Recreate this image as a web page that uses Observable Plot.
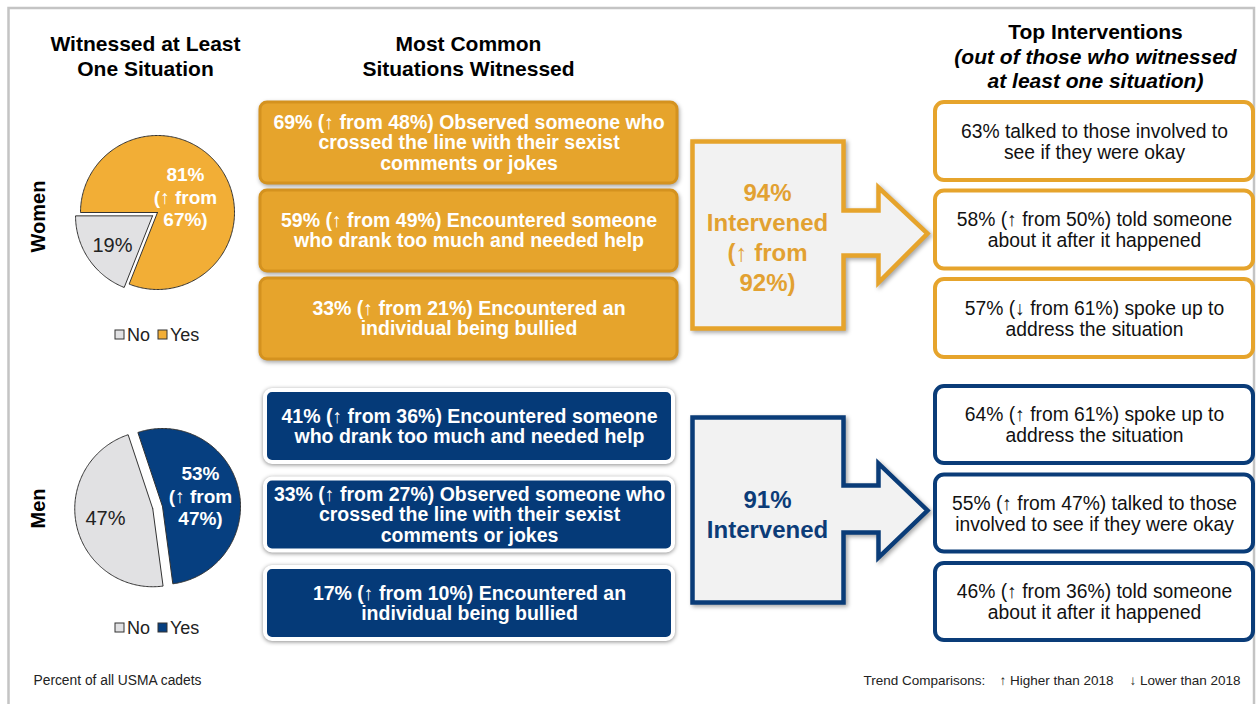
<!DOCTYPE html>
<html>
<head>
<meta charset="utf-8">
<script src="https://cdn.jsdelivr.net/npm/d3@7"></script>
<script src="https://cdn.jsdelivr.net/npm/@observablehq/plot@0.6"></script>
<style>
  html, body { margin: 0; padding: 0; background: #fff; }
  #chart svg { display: block; }
</style>
</head>
<body>
<div id="chart"></div>
<script>
// ================= DATA =================
const groups = ["Women", "Men"];
const witnessedYes = [81, 53];
const witnessedNo = [19, 47];
const witnessedYesPrior = [67, 47];
const legendLabels = ["No", "Yes"];

const columnTitles = ["Witnessed at Least\nOne Situation", "Most Common\nSituations Witnessed", "Top Interventions"];
const interventionSubtitle = "(out of those who witnessed\nat least one situation)";

const womenSituationPct = [69, 59, 33];
const womenSituationPrior = [48, 49, 21];
const womenSituationText = [
  "Observed someone who\ncrossed the line with their sexist\ncomments or jokes",
  "Encountered someone\nwho drank too much and needed help",
  "Encountered an\nindividual being bullied"
];

const menSituationPct = [41, 33, 17];
const menSituationPrior = [36, 27, 10];
const menSituationText = [
  "Encountered someone\nwho drank too much and needed help",
  "Observed someone who\ncrossed the line with their sexist\ncomments or jokes",
  "Encountered an\nindividual being bullied"
];

const intervenedPct = [94, 91];
const intervenedPrior = [92, null];

const womenInterventionPct = [63, 58, 57];
const womenInterventionPrior = [null, 50, 61];
const womenInterventionText = [
  "talked to those involved to\nsee if they were okay",
  "told someone\nabout it after it happened",
  "spoke up to\naddress the situation"
];

const menInterventionPct = [64, 55, 46];
const menInterventionPrior = [61, 47, 36];
const menInterventionText = [
  "spoke up to\naddress the situation",
  "talked to those\ninvolved to see if they were okay",
  "told someone\nabout it after it happened"
];

const footnote = "Percent of all USMA cadets";
const trendLegend = ["Trend Comparisons:", "\u2191 Higher than 2018", "\u2193 Lower than 2018"];

// ================= HELPERS =================
const arrowOf = (v, p) => (v > p ? "\u2191" : "\u2193");
const trendPart = (v, p) => (p == null ? "" : `(${arrowOf(v, p)} from ${p}%) `);
const itemLabel = (v, p, t) => `${v}% ${trendPart(v, p)}${t}`;

// ================= LAYOUT & STYLE =================
const W = 1259, H = 704;
const FONT = "'Liberation Sans', 'DejaVu Sans', Arial, sans-serif";
const theme = [
  { accent: "#e6a42c", accentDark: "#d4921f", pieYes: "#f2ae36", text: "#e2a131", box: "#e6a42c" },
  { accent: "#0a3c78", accentDark: "#0a3c78", pieYes: "#063f80", text: "#0c3c78", box: "#053a78" }
];
const pieGray = "#e1e1e3";
const layout = [
  { pie: { cx: 157, cy: 212, r: 77, start: 270, explode: 6 },
    pieLabel: { x: 185, y: 196 }, noLabel: { x: 112, y: 245 }, legendY: 335, groupY: 216,
    mid: { x1: 260, x2: 677, y0: 102, h: 81, step: 88 },
    right: { x1: 935, x2: 1253, y0: 102, h: 78, step: 88.5 },
    arrow: { x1: 692, x2: 843, y1: 141, y2: 328, s1: 210, s2: 255, hx: 878, h1: 187, h2: 282, tip: 927, ty: 233 },
    arrowText: { x: 767, y: 236 } },
  { pie: { cx: 162, cy: 506, r: 78, start: 341.6, explode: 10 },
    pieLabel: { x: 200, y: 495 }, noLabel: { x: 105, y: 518 }, legendY: 628, groupY: 508,
    mid: { x1: 265, x2: 673, y0: 390, h: 72, step: 88.5 },
    right: { x1: 935, x2: 1253, y0: 386, h: 77, step: 88.5 },
    arrow: { x1: 692, x2: 843, y1: 417, y2: 602, s1: 485, s2: 532, hx: 878, h1: 463, h2: 557, tip: 927, ty: 510 },
    arrowText: { x: 767, y: 513 } }
];

function arc(cx, cy, r, a0, a1) {
  const pts = [{ x: cx, y: cy }];
  const n = Math.max(4, Math.ceil(Math.abs(a1 - a0)));
  for (let i = 0; i <= n; i++) {
    const a = (a0 + (a1 - a0) * i / n) * Math.PI / 180;
    pts.push({ x: cx + r * Math.sin(a), y: cy - r * Math.cos(a) });
  }
  pts.push({ x: cx, y: cy });
  return pts;
}

function arrowPts(a) {
  const p = [[a.x1, a.y1], [a.x2, a.y1], [a.x2, a.s1], [a.hx, a.s1], [a.hx, a.h1], [a.tip, a.ty],
             [a.hx, a.h2], [a.hx, a.s2], [a.x2, a.s2], [a.x2, a.y2], [a.x1, a.y2], [a.x1, a.y1], [a.x2, a.y1]];
  return p.map(([x, y]) => ({ x, y }));
}

const marks = [];

// frame
marks.push(Plot.rect([{ x1: 8.5, y1: 8, x2: 1254, y2: 730 }],
  { x1: "x1", x2: "x2", y1: "y1", y2: "y2", fill: "none", stroke: "#c4c4c4", strokeWidth: 2.5 }));

// column titles
const titleData = [
  { x: 145, y: 55, t: columnTitles[0] },
  { x: 468, y: 55, t: columnTitles[1] },
  { x: 1095, y: 30, t: columnTitles[2] }
];
marks.push(Plot.text(titleData, { x: "x", y: "y", text: "t", fontSize: 21, fontWeight: "bold",
  fontFamily: FONT, fill: "#000", lineHeight: 1.19 }));
marks.push(Plot.text([{ x: 1095, y: 67.5, t: interventionSubtitle }], { x: "x", y: "y", text: "t",
  fontSize: 21, fontWeight: "bold", fontStyle: "italic", fontFamily: FONT, fill: "#000", lineHeight: 1.19 }));

groups.forEach((g, gi) => {
  const L = layout[gi], T = theme[gi];

  // group label
  marks.push(Plot.text([{ x: 38, y: L.groupY, t: g }], { x: "x", y: "y", text: "t", rotate: -90,
    fontSize: 20, fontWeight: "bold", fontFamily: FONT, fill: "#000" }));

  // pie
  const P = L.pie;
  const a0 = P.start;
  const a1 = a0 + witnessedYes[gi] / 100 * 360;
  const a2 = a1 + witnessedNo[gi] / 100 * 360;
  const mid = (a1 + a2) / 2 * Math.PI / 180;
  const ox = P.explode * Math.sin(mid), oy = -P.explode * Math.cos(mid);
  marks.push(Plot.line(arc(P.cx, P.cy, P.r, a0, a1), { x: "x", y: "y", fill: T.pieYes,
    stroke: "#333", strokeWidth: 1, strokeLinejoin: "miter" }));
  marks.push(Plot.line(arc(P.cx + ox, P.cy + oy, P.r, a1, a2), { x: "x", y: "y", fill: pieGray,
    stroke: "#333", strokeWidth: 1, strokeLinejoin: "miter" }));
  marks.push(Plot.text([{ x: L.pieLabel.x, y: L.pieLabel.y,
      t: `${witnessedYes[gi]}%\n(${arrowOf(witnessedYes[gi], witnessedYesPrior[gi])} from\n${witnessedYesPrior[gi]}%)` }],
    { x: "x", y: "y", text: "t", fontSize: 19, fontWeight: "bold", fontFamily: FONT, fill: "#fff", lineHeight: 1.18 }));
  marks.push(Plot.text([{ x: L.noLabel.x, y: L.noLabel.y, t: `${witnessedNo[gi]}%` }],
    { x: "x", y: "y", text: "t", fontSize: 20, fontFamily: FONT, fill: "#222" }));

  // legend
  const legendItems = [
    { x: 115, label: legendLabels[0], color: pieGray },
    { x: 158, label: legendLabels[1], color: T.pieYes }
  ];
  marks.push(Plot.rect(legendItems, { x1: "x", x2: d => d.x + 9, y1: () => L.legendY - 5, y2: () => L.legendY + 4,
    fill: "color", stroke: "#333", strokeWidth: 1 }));
  marks.push(Plot.text(legendItems, { x: d => d.x + 11.5, y: () => L.legendY, text: "label", textAnchor: "start",
    fontSize: 18, fontFamily: FONT, fill: "#222" }));

  // middle boxes
  const pcts = gi === 0 ? womenSituationPct : menSituationPct;
  const priors = gi === 0 ? womenSituationPrior : menSituationPrior;
  const texts = gi === 0 ? womenSituationText : menSituationText;
  const M = L.mid;
  const midBoxes = pcts.map((v, i) => ({
    x1: M.x1, x2: M.x2, y1: M.y0 + i * M.step, y2: M.y0 + i * M.step + M.h,
    label: itemLabel(v, priors[i], texts[i])
  }));
  if (gi === 0) {
    marks.push(Plot.rect(midBoxes, { x1: "x1", x2: "x2", y1: "y1", y2: "y2", rx: 7, fill: T.box,
      stroke: T.accentDark, strokeWidth: 3, imageFilter: "drop-shadow(1px 2px 2px rgba(0,0,0,0.35))" }));
  } else {
    marks.push(Plot.rect(midBoxes, { x1: "x1", x2: "x2", y1: "y1", y2: "y2", rx: 7, fill: T.box,
      stroke: "#fff", strokeWidth: 4, imageFilter: "drop-shadow(0px 1px 2px rgba(0,0,0,0.45))" }));
  }
  marks.push(Plot.text(midBoxes, { x: d => (d.x1 + d.x2) / 2, y: d => (d.y1 + d.y2) / 2, text: "label",
    fontSize: 19.5, fontWeight: "bold", fontFamily: FONT, fill: "#fff", lineHeight: 1.03 }));

  // arrow
  marks.push(Plot.line(arrowPts(L.arrow), { x: "x", y: "y", fill: "#f2f2f2", stroke: T.accent,
    strokeWidth: 4.5, strokeLinejoin: "miter", strokeLinecap: "butt", strokeMiterlimit: 10,
    imageFilter: "drop-shadow(2px 2px 2px rgba(0,0,0,0.35))" }));
  const ip = intervenedPct[gi], ipr = intervenedPrior[gi];
  const arrowLabel = `${ip}%\nIntervened` + (ipr == null ? "" : `\n(${arrowOf(ip, ipr)} from\n${ipr}%)`);
  marks.push(Plot.text([{ x: L.arrowText.x, y: L.arrowText.y, t: arrowLabel }], { x: "x", y: "y", text: "t",
    fontSize: 24, fontWeight: "bold", fontFamily: FONT, fill: T.text, lineHeight: 1.25 }));

  // right boxes
  const rp = gi === 0 ? womenInterventionPct : menInterventionPct;
  const rpr = gi === 0 ? womenInterventionPrior : menInterventionPrior;
  const rt = gi === 0 ? womenInterventionText : menInterventionText;
  const R = L.right;
  const rightBoxes = rp.map((v, i) => ({
    x1: R.x1, x2: R.x2, y1: R.y0 + i * R.step, y2: R.y0 + i * R.step + R.h,
    label: itemLabel(v, rpr[i], rt[i])
  }));
  marks.push(Plot.rect(rightBoxes, { x1: "x1", x2: "x2", y1: "y1", y2: "y2", rx: 9, fill: "#fff",
    stroke: T.accent, strokeWidth: 4 }));
  marks.push(Plot.text(rightBoxes, { x: d => (d.x1 + d.x2) / 2, y: d => (d.y1 + d.y2) / 2, text: "label",
    fontSize: 19.3, fontFamily: FONT, fill: "#111", lineHeight: 1.09 }));
});

// footer
marks.push(Plot.text([{ x: 33, y: 680, t: footnote }], { x: "x", y: "y", text: "t", textAnchor: "start",
  fontSize: 13.8, fontFamily: FONT, fill: "#222" }));
const trendItems = [
  { x: 863, t: trendLegend[0] },
  { x: 999, t: trendLegend[1] },
  { x: 1129, t: trendLegend[2] }
];
marks.push(Plot.text(trendItems, { x: "x", y: () => 680, text: "t", textAnchor: "start",
  fontSize: 13.5, fontFamily: FONT, fill: "#222" }));

const chart = Plot.plot({
  width: W,
  height: H,
  margin: 0,
  x: { domain: [0, W], range: [0, W], axis: null },
  y: { domain: [0, H], range: [0, H], axis: null },
  style: { fontFamily: FONT, background: "#fff", overflow: "visible" },
  marks
});
document.getElementById("chart").append(chart);
</script>
</body>
</html>
